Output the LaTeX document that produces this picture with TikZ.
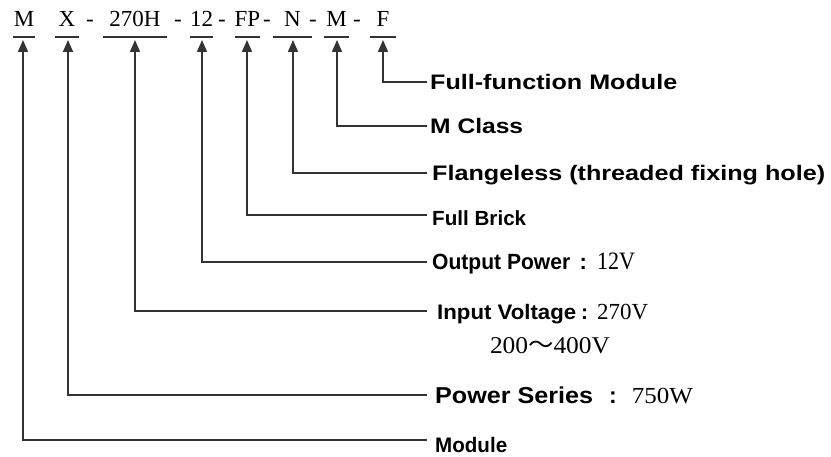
\documentclass[tikz,border=0pt]{standalone}
\usepackage{fontspec}
\usepackage{graphicx}
\setmainfont{Liberation Serif}
\newfontfamily\lsans{Liberation Sans}
\newfontfamily\cjk{Noto Sans CJK SC}
\usetikzlibrary{arrows.meta}
\newcommand\fs[1]{\fontsize{#1}{#1}\selectfont}
\newcommand\wbox[2]{\resizebox{#1}{\height}{#2}}
\begin{document}
\begin{tikzpicture}[x=1pt,y=-1pt,
  code/.style={anchor=base,inner sep=0pt,font=\fs{23pt}},
  bar/.style={line width=1.4pt,black!80},
  conn/.style={line width=1.6pt,black!80,-{Triangle[width=10pt,length=12pt]}},
  lab/.style={anchor=west,inner ysep=0pt,inner xsep=#1,text depth=0pt,font=\lsans\bfseries},
  lab/.default=3pt,
  val/.style={anchor=center,inner sep=0pt}]
\useasboundingbox (0,0) rectangle (831,457);

% code letters
\node[code] (c1) at (24,27) {M};
\node[code] (c2) at (67,27) {X};
\node[code] (d1) at (90,27) {-};
\node[code] (c3) at (135,27) {270H};
\node[code] (d2) at (178,27) {-};
\node[code] (c4) at (201.5,27) {12};
\node[code] (d3) at (222,27) {-};
\node[code] (c5) at (247.5,27) {FP};
\node[code] (d4) at (267,27) {-};
\node[code] (c6) at (292.5,27) {N};
\node[code] (d5) at (313,27) {-};
\node[code] (c7) at (336.5,27) {M};
\node[code] (d6) at (357,27) {-};
\node[code] (c8) at (383,27) {F};

% bars
\draw[bar] (13,37) -- (35,37);
\draw[bar] (55,37) -- (79,37);
\draw[bar] (103,37) -- (167,37);
\draw[bar] (190,37) -- (213,37);
\draw[bar] (235,37) -- (260,37);
\draw[bar] (273,37) -- (312,37);
\draw[bar] (324,37) -- (349,37);
\draw[bar] (370,37) -- (396,37);

% arrow tips
\coordinate (t1) at (23,40);
\coordinate (t2) at (68,40);
\coordinate (t3) at (135,40);
\coordinate (t4) at (202,40);
\coordinate (t5) at (247,40);
\coordinate (t6) at (293,40);
\coordinate (t7) at (337,40);
\coordinate (t8) at (383,40);

% labels
\node[lab,text height=15pt] (l8) at (427,82) {\fs{21pt}\wbox{247pt}{Full-function Module}};
\node[lab,text height=15pt] (l7) at (427,126) {\fs{21pt}\wbox{93pt}{M Class}};
\node[lab=5pt,text height=15pt] (l6) at (427,173) {\fs{21pt}\wbox{393pt}{Flangeless (threaded fixing hole)}};
\node[lab=5pt,text height=14pt] (l5) at (427,219) {\fs{20.5pt}\wbox{94pt}{Full Brick}};
\node[lab=5pt,text height=16pt] (l4) at (427,262) {\fs{22pt}\wbox{138pt}{Output Power}\hspace{9.5pt}:\hspace{10pt}{\rmfamily\mdseries\fs{25pt}\wbox{38pt}{12V}}};
\node[lab=10pt,text height=15pt] (l3) at (427,312) {\fs{21pt}\wbox{139pt}{Input Voltage}\hspace{5pt}:\hspace{9pt}{\rmfamily\mdseries\fs{23pt}\wbox{51pt}{270V}}};
\node[val] (l3b) at (550,346) {\fs{24pt}\wbox{120pt}{200{\cjk ～}400V}};
\node[lab=8pt,text height=16pt] (l2) at (427,395) {\fs{23pt}\wbox{158pt}{Power Series}\hspace{16pt}:\hspace{15pt}{\rmfamily\mdseries\fs{23pt}\wbox{61pt}{750W}}};
\node[lab=8pt,text height=15pt] (l1) at (427,445.5) {\fs{21pt}\wbox{72pt}{Module}};

% connectors
\draw[conn] (l8.west) -| (t8);
\draw[conn] (l7.west) -| (t7);
\draw[conn] (l6.west) -| (t6);
\draw[conn] ([yshift=4pt]l5.west) -| (t5);
\draw[conn] (l4.west) -| (t4);
\draw[conn] ([yshift=1pt]l3.west) -| (t3);
\draw[conn] (l2.west) -| (t2);
\draw[conn] ([yshift=5.5pt]l1.west) -| (t1);
\end{tikzpicture}
\end{document}
